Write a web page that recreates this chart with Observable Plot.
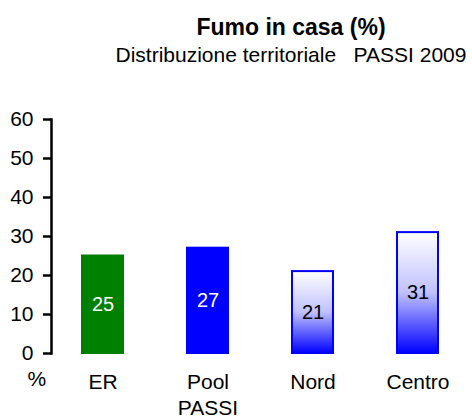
<!DOCTYPE html>
<html><head><meta charset="utf-8">
<script src="https://cdn.jsdelivr.net/npm/d3@7"></script>
<script src="https://cdn.jsdelivr.net/npm/@observablehq/plot@0.6"></script>
<style>
body{margin:0;background:#fff;font-family:"Liberation Sans",Arial,sans-serif;}
#wrap{position:relative;width:472px;height:417px;overflow:hidden;background:#fff;}
.t{position:absolute;left:0;width:582px;text-align:center;white-space:pre;color:#000;}
</style></head><body>
<div id="wrap">
<div class="t" style="top:16px;font-size:23px;font-weight:bold;line-height:23px;">Fumo in casa (%)</div>
<div class="t" style="top:44px;font-size:21px;line-height:21px;">Distribuzione territoriale   PASSI 2009</div>
<div id="chart" style="position:absolute;left:0;top:70px;"></div>
</div>
<script>
const categories = ["ER", "Pool PASSI", "Nord", "Centro"];
const tickLabels = ["ER", "Pool\nPASSI", "Nord", "Centro"];
const values = [25, 27, 21, 31];
const barFills = ["#008000", "#0000ff", "url(#gradBlue)", "url(#gradBlue)"];
const barStrokes = ["#008000", "#0000ff", "#0000ff", "#0000ff"];
const labelColors = ["#ffffff", "#ffffff", "#000000", "#000000"];
const yTicks = [0, 10, 20, 30, 40, 50, 60];

const data = categories.map((c, i) => ({
  cat: c, label: tickLabels[i], value: values[i],
  fill: barFills[i], stroke: barStrokes[i], labelColor: labelColors[i]
}));

const chart = Plot.plot({
  width: 472,
  height: 347,
  marginTop: 49,
  marginBottom: 64,
  marginLeft: 51,
  marginRight: 4,
  style: {fontFamily: "Liberation Sans, Arial, sans-serif", fontSize: "21px", color: "#000", background: "#fff"},
  x: {domain: categories, paddingInner: 0.61, paddingOuter: 0.28, axis: null},
  y: {domain: [0, 60], axis: null},
  color: {type: "identity"},
  marks: [
    Plot.barY(data, {x: "cat", y: "value", fill: d => d.fill, stroke: d => d.stroke, strokeWidth: 2}),
    Plot.text(data, {x: "cat", y: d => d.value / 2, text: d => String(d.value), fill: d => d.labelColor, fontSize: 20}),
    Plot.axisY({ticks: yTicks, tickSize: 8, tickPadding: 10, strokeWidth: 2.5, label: null, fontSize: 21, tickFormat: d => String(d)}),
    Plot.frame({anchor: "left", strokeWidth: 2.5}),
    Plot.text(data, {x: "cat", text: "label", frameAnchor: "bottom", lineAnchor: "top", dy: 18, lineHeight: 1.2, fontSize: 21, fill: "#000"}),
    Plot.text(["%"], {frameAnchor: "bottom-left", dx: -24, dy: 32, fontSize: 21, fill: "#000"})
  ]
});

const ns = "http://www.w3.org/2000/svg";
const defs = document.createElementNS(ns, "defs");
const grad = document.createElementNS(ns, "linearGradient");
grad.setAttribute("id", "gradBlue");
grad.setAttribute("x1", "0"); grad.setAttribute("y1", "0");
grad.setAttribute("x2", "0"); grad.setAttribute("y2", "1");
[["0", "#ffffff"], ["0.5", "#c0c0ff"], ["1", "#0000ff"]].forEach(([o, c]) => {
  const s = document.createElementNS(ns, "stop");
  s.setAttribute("offset", o); s.setAttribute("stop-color", c);
  grad.appendChild(s);
});
defs.appendChild(grad);
chart.insertBefore(defs, chart.firstChild);
document.getElementById("chart").appendChild(chart);
</script>
</body></html>
